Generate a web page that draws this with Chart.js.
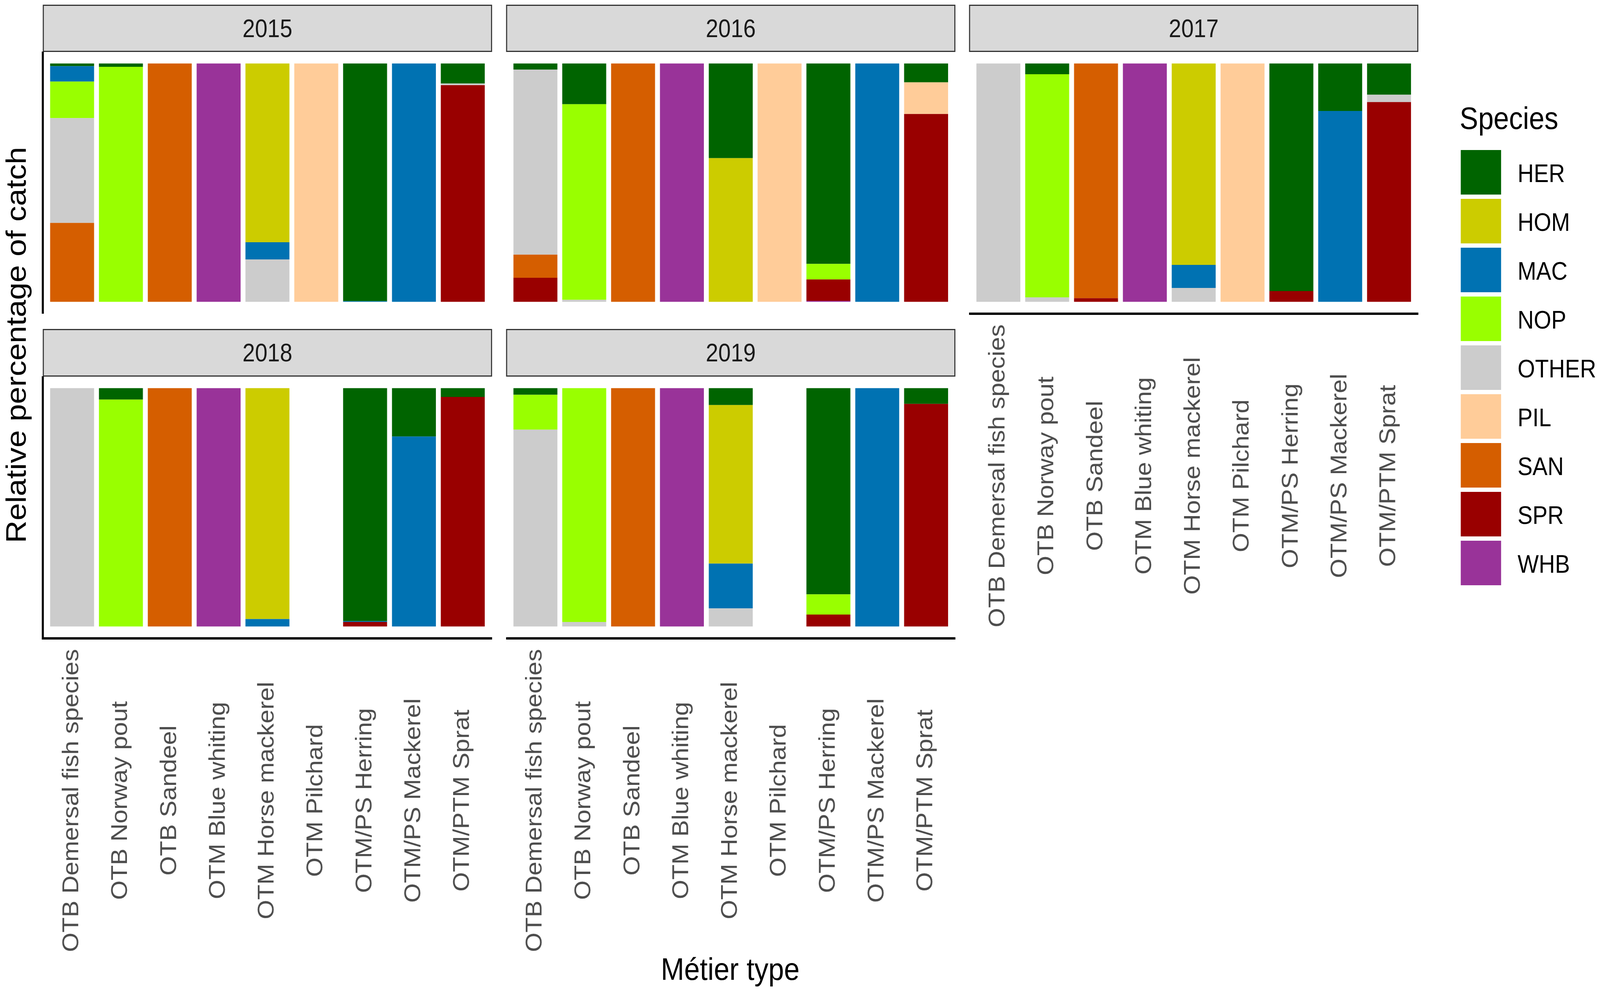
<!DOCTYPE html>
<html>
<head>
<meta charset="utf-8">
<script src="https://cdn.jsdelivr.net/npm/chart.js@4.4.1/dist/chart.umd.min.js"></script>
<style>
html,body{margin:0;padding:0;background:#ffffff;overflow:hidden;}
#page{position:absolute;left:0;top:0;width:4562px;height:2534px;transform-origin:0 0;background:#ffffff;font-family:"Liberation Sans",Arial,Helvetica,sans-serif;}
.strip{position:absolute;box-sizing:border-box;border:3px solid #333333;background:#D9D9D9;display:flex;align-items:center;justify-content:center;font-size:64px;color:#1a1a1a;}
canvas{position:absolute;}
.title{position:absolute;font-size:80px;color:#000;white-space:nowrap;}
.legkey{position:absolute;}
.leglab{position:absolute;font-size:64px;color:#000;white-space:nowrap;transform:translateY(-50%);}
</style>
</head>
<body>
<div id="page"></div>
<script>
// ---------------- data ----------------
const years = ['2015', '2016', '2017', '2018', '2019'];
const metiers = ['OTB Demersal fish species', 'OTB Norway pout', 'OTB Sandeel', 'OTM Blue whiting',
  'OTM Horse mackerel', 'OTM Pilchard', 'OTM/PS Herring', 'OTM/PS Mackerel', 'OTM/PTM Sprat'];
const species = ['HER', 'HOM', 'MAC', 'NOP', 'OTHER', 'PIL', 'SAN', 'SPR', 'WHB'];

// rows follow species order, columns follow metier order (relative % of catch)
const catch2015 = [
  [1.1, 1.4, 0, 0, 0, 0, 99.7, 0, 8.4],
  [0, 0, 0, 0, 75.0, 0, 0, 0, 0],
  [6.5, 0, 0, 0, 7.2, 0, 0.3, 100, 0],
  [15.3, 98.6, 0, 0, 0, 0, 0, 0, 0],
  [44.0, 0, 0, 0, 17.8, 0, 0, 0, 0.7],
  [0, 0, 0, 0, 0, 100, 0, 0, 0],
  [33.1, 0, 100, 0, 0, 0, 0, 0, 0],
  [0, 0, 0, 0, 0, 0, 0, 0, 90.9],
  [0, 0, 0, 100, 0, 0, 0, 0, 0]
];
const catch2016 = [
  [2.6, 17.1, 0, 0, 39.7, 0, 84.1, 0, 7.9],
  [0, 0, 0, 0, 60.3, 0, 0, 0, 0],
  [0, 0, 0, 0, 0, 0, 0, 100, 0],
  [0, 82.1, 0, 0, 0, 0, 6.5, 0, 0],
  [77.6, 0.8, 0, 0, 0, 0, 0, 0, 0],
  [0, 0, 0, 0, 0, 100, 0, 0, 13.3],
  [9.7, 0, 100, 0, 0, 0, 0, 0, 0],
  [10.1, 0, 0, 0, 0, 0, 9.0, 0, 78.8],
  [0, 0, 0, 100, 0, 0, 0.4, 0, 0]
];
const catch2017 = [
  [0, 4.5, 0, 0, 0, 0, 95.5, 19.9, 13.1],
  [0, 0, 0, 0, 84.5, 0, 0, 0, 0],
  [0, 0, 0, 0, 9.7, 0, 0, 80.1, 0],
  [0, 93.6, 0, 0, 0, 0, 0, 0, 0],
  [100, 1.9, 0, 0, 5.8, 0, 0, 0, 3.1],
  [0, 0, 0, 0, 0, 100, 0, 0, 0],
  [0, 0, 98.5, 0, 0, 0, 0, 0, 0],
  [0, 0, 1.5, 0, 0, 0, 4.5, 0, 83.8],
  [0, 0, 0, 100, 0, 0, 0, 0, 0]
];
const catch2018 = [
  [0, 4.8, 0, 0, 0, 0, 97.75, 20.3, 3.7],
  [0, 0, 0, 0, 96.9, 0, 0, 0, 0],
  [0, 0, 0, 0, 3.1, 0, 0.35, 79.7, 0],
  [0, 95.2, 0, 0, 0, 0, 0, 0, 0],
  [100, 0, 0, 0, 0, 0, 0, 0, 0],
  [0, 0, 0, 0, 0, 0, 0, 0, 0],
  [0, 0, 100, 0, 0, 0, 0, 0, 0],
  [0, 0, 0, 0, 0, 0, 1.9, 0, 96.3],
  [0, 0, 0, 100, 0, 0, 0, 0, 0]
];
const catch2019 = [
  [2.8, 0, 0, 0, 7.1, 0, 86.5, 0, 6.6],
  [0, 0, 0, 0, 66.5, 0, 0, 0, 0],
  [0, 0, 0, 0, 18.8, 0, 0, 100, 0],
  [14.6, 98.1, 0, 0, 0, 0, 8.5, 0, 0],
  [82.6, 1.9, 0, 0, 7.6, 0, 0, 0, 0],
  [0, 0, 0, 0, 0, 0, 0, 0, 0],
  [0, 0, 100, 0, 0, 0, 0, 0, 0],
  [0, 0, 0, 0, 0, 0, 5.0, 0, 93.4],
  [0, 0, 0, 100, 0, 0, 0, 0, 0]
];
const catchByYear = [catch2015, catch2016, catch2017, catch2018, catch2019];

// ---------------- styles / layout ----------------
const speciesColors = ['#006400', '#CCCC00', '#0072B2', '#99FF00', '#CCCCCC', '#FFCC99', '#D55E00', '#990000', '#993399'];
const FONT = '"Liberation Sans", Arial, Helvetica, sans-serif';
const PAGE_W = 4562, PAGE_H = 2534;
const colX = [122, 1443, 2763];
const panelW = 1281;
const rowsLayout = [
  { stripTop: 12, top: 132, bottom: 803 },
  { stripTop: 842, top: 963, bottom: 1634 }
];
const panelsLayout = [
  { row: 0, col: 0, left: true, bottomAxis: false },
  { row: 0, col: 1, left: false, bottomAxis: false },
  { row: 0, col: 2, left: false, bottomAxis: true },
  { row: 1, col: 0, left: true, bottomAxis: true },
  { row: 1, col: 1, left: false, bottomAxis: true }
];
const LABEL_AREA = 900;
const PADL = 12, PADR = 4;

// fill the browser's real viewport with the 4562x2534 figure
const page = document.getElementById('page');
const vw = window.innerWidth || PAGE_W, vh = window.innerHeight || PAGE_H;
const sx = vw / PAGE_W, sy = vh / PAGE_H;
page.style.transform = 'scale(' + sx + ',' + sy + ')';
document.body.style.width = vw + 'px';
document.body.style.height = vh + 'px';

const axisPlugin = {
  id: 'facetAxis',
  afterDraw(chart, args, opts) {
    const { ctx, chartArea } = chart;
    const xs = chart.scales.x;
    ctx.save();
    ctx.strokeStyle = '#000000';
    ctx.lineWidth = 6;
    ctx.lineCap = 'butt';
    if (opts.left) {
      ctx.beginPath();
      ctx.moveTo(chartArea.left, chartArea.top);
      ctx.lineTo(chartArea.left, chartArea.bottom + (opts.bottomAxis ? 3 : 0));
      ctx.stroke();
    }
    if (opts.bottomAxis) {
      ctx.beginPath();
      ctx.moveTo(chartArea.left - (opts.left ? 3 : 0), chartArea.bottom);
      ctx.lineTo(chartArea.right, chartArea.bottom);
      ctx.stroke();
      ctx.fillStyle = '#4D4D4D';
      ctx.font = '64px ' + FONT;
      ctx.textAlign = 'center';
      ctx.textBaseline = 'middle';
      metiers.forEach((m, i) => {
        const px = xs.getPixelForValue(i + 1);
        ctx.save();
        ctx.translate(px, chartArea.bottom + 415);
        ctx.rotate(-Math.PI / 2);
        ctx.fillText(m, 0, 0);
        ctx.restore();
      });
    }
    ctx.restore();
  }
};

function el(tag, cls, styles, text) {
  const e = document.createElement(tag);
  if (cls) e.className = cls;
  Object.assign(e.style, styles);
  if (text !== undefined) e.textContent = text;
  page.appendChild(e);
  return e;
}

years.forEach((yr, yi) => {
  const pl = panelsLayout[yi];
  const rl = rowsLayout[pl.row];
  const x = colX[pl.col];
  // strip
  el('div', 'strip', {
    left: x + 'px', top: rl.stripTop + 'px', width: panelW + 'px',
    height: (rl.top - rl.stripTop + 1) + 'px'
  }, yr);
  // canvas
  const ph = rl.bottom - rl.top;
  const extra = pl.bottomAxis ? LABEL_AREA : 8;
  const cv = document.createElement('canvas');
  const cw = panelW + PADL + PADR;
  const ch = ph + extra;
  cv.width = cw; cv.height = ch;
  cv.style.left = (x - PADL) + 'px';
  cv.style.top = rl.top + 'px';
  cv.style.width = cw + 'px';
  cv.style.height = ch + 'px';
  page.appendChild(cv);

  const values = catchByYear[yi];
  const datasets = [];
  for (let s = species.length - 1; s >= 0; s--) {
    datasets.push({
      label: species[s],
      data: values[s].map((v, i) => ({ x: i + 1, y: v })),
      backgroundColor: speciesColors[s],
      borderWidth: 0,
      categoryPercentage: 0.9,
      barPercentage: 1.0
    });
  }
  new Chart(cv, {
    type: 'bar',
    data: { datasets },
    options: {
      responsive: false,
      animation: false,
      layout: { padding: { left: PADL, right: PADR, top: 0, bottom: extra } },
      plugins: {
        legend: { display: false },
        tooltip: { enabled: false },
        facetAxis: { left: pl.left, bottomAxis: pl.bottomAxis }
      },
      scales: {
        x: {
          type: 'linear', min: 0.4, max: 9.6, offset: false, stacked: true, display: false,
          grid: { offset: false },
          afterBuildTicks: (scale) => { scale.ticks = metiers.map((m, i) => ({ value: i + 1 })); }
        },
        y: { min: -5, max: 105, stacked: true, display: false }
      }
    },
    plugins: [axisPlugin]
  });
});

// axis titles
el('div', 'title', {
  left: '46px', top: '883px', transform: 'translate(-50%,-50%) rotate(-90deg)'
}, 'Relative percentage of catch');
el('div', 'title', {
  left: '2082px', top: '2481px', transform: 'translate(-50%,-50%)'
}, 'Métier type');

// legend
el('div', 'title', { left: '4162px', top: '258px', fontSize: '79px', lineHeight: '90px' }, 'Species');
species.forEach((s, i) => {
  const top = 384 + i * 125;
  el('div', 'legkey', {
    left: '4165px', top: top + 'px', width: '115px', height: '114px', background: speciesColors[i]
  });
  el('div', 'leglab', { left: '4327px', top: (top + 60) + 'px' }, s);
});
</script>
</body>
</html>
